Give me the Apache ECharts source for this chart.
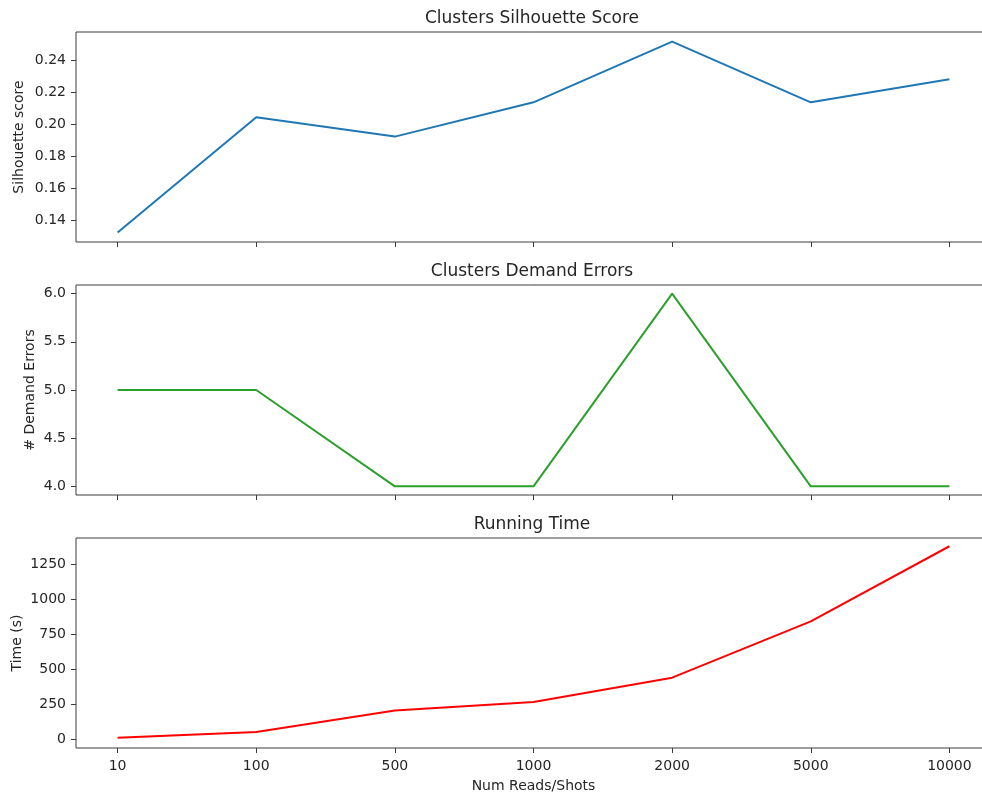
<!DOCTYPE html>
<html>
<head>
<meta charset="utf-8">
<script src="https://cdn.jsdelivr.net/npm/echarts@6/dist/echarts.min.js"></script>
<style>
html,body{margin:0;padding:0;background:#fff;}
#c{width:982px;height:796px;}
</style>
</head>
<body>
<div id="c"></div>
<script>
const categories = ['10', '100', '500', '1000', '2000', '5000', '10000'];
const silhouette = [0.1322, 0.2044, 0.1923, 0.2138, 0.2519, 0.2138, 0.2283];
const demandErrors = [5, 5, 4, 4, 6, 4, 4];
const runningTime = [12, 52, 207, 267, 441, 844, 1381];
const silTicks = [0.14, 0.16, 0.18, 0.20, 0.22, 0.24];
const errTicks = [4.0, 4.5, 5.0, 5.5, 6.0];
const timeTicks = [0, 250, 500, 750, 1000, 1250];
const titles = ['Clusters Silhouette Score', 'Clusters Demand Errors', 'Running Time'];
const yNames = ['Silhouette score', '# Demand Errors', 'Time (s)'];
const xName = 'Num Reads/Shots';

const FONT = 'DejaVu Sans';
const TXT = '#262626';
const LINE = '#3a3a3a';
const idx = categories.map((_, i) => i);
const pairs = arr => arr.map((v, i) => [i, v]);

const gridTops = [32, 285, 538];
const gridH = 210;

const grids = gridTops.map(t => ({
  left: 76, width: 915, top: t, height: gridH,
  containLabel: false, outerBoundsMode: 'none',
  show: true, borderColor: LINE, borderWidth: 1, backgroundColor: 'transparent'
}));

const xAxes = [0, 1, 2].map(g => ({
  type: 'value', gridIndex: g, min: -0.3, max: 6.3, position: 'bottom',
  axisLine: { show: false, onZero: false },
  splitLine: { show: false },
  axisTick: { show: true, customValues: idx, length: 5, lineStyle: { color: LINE, width: 1 } },
  axisLabel: {
    show: g === 2, customValues: idx, margin: 11,
    formatter: v => categories[Math.round(v)],
    color: TXT, fontFamily: FONT, fontSize: 14
  },
  name: g === 2 ? xName : '', nameLocation: 'middle', nameGap: 31, nameMoveOverlap: false,
  nameTextStyle: { color: TXT, fontFamily: FONT, fontSize: 14 }
}));

const yCfg = [
  { min: 0.1262, max: 0.2579, ticks: silTicks, fmt: v => v.toFixed(2), gap: 50 },
  { min: 3.91, max: 6.09, ticks: errTicks, fmt: v => v.toFixed(1), gap: 39 },
  { min: -62, max: 1440, ticks: timeTicks, fmt: v => String(Math.round(v)), gap: 52 }
];

const yAxes = yCfg.map((c, g) => ({
  type: 'value', gridIndex: g, min: c.min, max: c.max, position: 'left',
  axisLine: { show: false, onZero: false },
  splitLine: { show: false },
  axisTick: { show: true, customValues: c.ticks, length: 5, lineStyle: { color: LINE, width: 1 } },
  axisLabel: { customValues: c.ticks, formatter: c.fmt, margin: 10, color: TXT, fontFamily: FONT, fontSize: 14 },
  name: yNames[g], nameLocation: 'middle', nameGap: c.gap, nameRotate: 90, nameMoveOverlap: false,
  nameTextStyle: { color: TXT, fontFamily: FONT, fontSize: 14 }
}));

const colors = ['#1f77b4', '#2ca02c', '#ff0000'];
const datas = [silhouette, demandErrors, runningTime];
const series = datas.map((d, g) => ({
  type: 'line', xAxisIndex: g, yAxisIndex: g,
  data: pairs(d), showSymbol: false, symbol: 'none',
  lineStyle: { color: colors[g], width: 2 }, animation: false, silent: true
}));

const graphic = titles.map((t, g) => ({
  type: 'text', x: 532, y: gridTops[g] - 13,
  style: { text: t, fill: TXT, font: '17px "DejaVu Sans"', textAlign: 'center', textVerticalAlign: 'middle' }
}));

const chart = echarts.init(document.getElementById('c'), null, { renderer: 'canvas' });
chart.setOption({
  animation: false,
  backgroundColor: '#fff',
  grid: grids, xAxis: xAxes, yAxis: yAxes, series: series, graphic: graphic
});
</script>
</body>
</html>
